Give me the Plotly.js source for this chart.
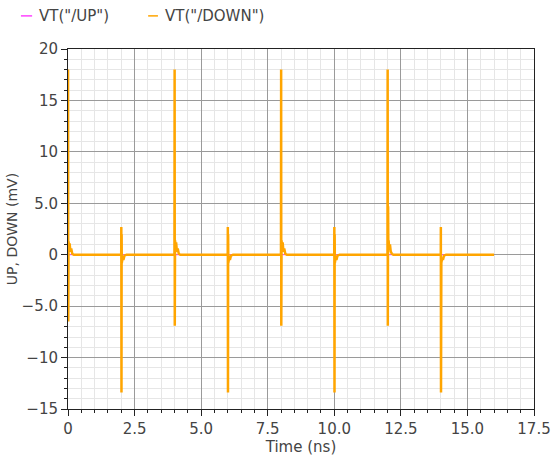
<!DOCTYPE html>
<html>
<head>
<meta charset="utf-8">
<script src="https://cdn.plot.ly/plotly-3.0.1.min.js"></script>
<style>html,body{margin:0;padding:0;background:#fff;}#chart{width:553px;height:456px;}</style>
</head>
<body>
<div id="chart"></div>
<script>
// Series names
const seriesNames = ['VT("/UP")', 'VT("/DOWN")'];

// VT("/UP") — lies under the DOWN trace (flat)
const upTime = [0, 16];
const upValue = [0, 0];

// VT("/DOWN") time (ns) and value (mV)
const downTime = [
  0, 0.002, 0.010, 0.020, 0.040, 0.060, 0.090, 0.120, 0.160, 0.220,
  1.998, 2.000, 2.002, 2.008, 2.014, 2.020, 2.050, 2.080, 2.120, 2.200,
  3.998, 4.000, 4.004, 4.010, 4.020, 4.040, 4.060, 4.090, 4.120, 4.160, 4.220,
  5.998, 6.000, 6.002, 6.008, 6.014, 6.020, 6.050, 6.080, 6.120, 6.200,
  7.998, 8.000, 8.004, 8.010, 8.020, 8.040, 8.060, 8.090, 8.120, 8.160, 8.220,
  9.998, 10.000, 10.002, 10.008, 10.014, 10.020, 10.050, 10.080, 10.120, 10.200,
  11.998, 12.000, 12.004, 12.010, 12.020, 12.030, 12.040, 12.060, 12.090, 12.120, 12.160, 12.220,
  13.998, 14.000, 14.002, 14.008, 14.014, 14.020, 14.050, 14.080, 14.120, 14.200,
  16.000
];
const downValue = [
  0, 18.0, -6.5, 1.3, 0.5, 1.1, 0.3, 0.6, 0.1, 0,
  0, 0, 2.7, -13.4, 2.0, -0.8, -0.3, -0.5, -0.1, 0,
  0, 0, 18.0, -6.9, 1.4, 0.5, 1.2, 0.3, 0.6, 0.1, 0,
  0, 0, 2.7, -13.4, 2.0, -0.8, -0.3, -0.5, -0.1, 0,
  0, 0, 18.0, -6.9, 1.4, 0.5, 1.2, 0.3, 0.6, 0.1, 0,
  0, 0, 2.7, -13.4, 2.0, -0.8, -0.3, -0.5, -0.1, 0,
  0, 0, 18.0, -6.9, 4.7, 0.5, 1.4, 0.5, 1.0, 0.3, 0.1, 0,
  0, 0, 2.7, -13.4, 2.0, -0.8, -0.3, -0.5, -0.1, 0,
  0
];

// Tick labels
const xTickVals = [0, 2.5, 5, 7.5, 10, 12.5, 15, 17.5];
const xTickText = ['0', '2.5', '5.0', '7.5', '10.0', '12.5', '15.0', '17.5'];
const yTickVals = [20, 15, 10, 5, 0, -5, -10, -15];
const yTickText = ['20', '15', '10', '5.0', '0', '\u22125.0', '\u221210', '\u221215'];

const colors = ['#ff44ff', '#ffa500'];
const FONT = 'DejaVu Sans, sans-serif';
const textColor = '#444444';

const traces = [
  { x: upTime, y: upValue, name: seriesNames[0], type: 'scatter', mode: 'lines',
    line: { color: colors[0], width: 1 }, showlegend: false, hoverinfo: 'skip' },
  { x: downTime, y: downValue, name: seriesNames[1], type: 'scatter', mode: 'lines',
    line: { color: colors[1], width: 2.5 }, showlegend: false, hoverinfo: 'skip' }
];

const axisCommon = {
  showline: true, linecolor: '#222222', linewidth: 1, mirror: true,
  ticks: 'outside', ticklen: 6, tickcolor: '#222222', tickwidth: 1,
  showgrid: true, gridcolor: '#9a9a9a', gridwidth: 1, zeroline: false,
  tickfont: { family: FONT, size: 15, color: textColor },
  tickmode: 'array', fixedrange: true
};

const layout = {
  width: 553, height: 456,
  margin: { l: 68, r: 19, t: 49, b: 47, pad: 0 },
  paper_bgcolor: '#ffffff', plot_bgcolor: '#ffffff',
  font: { family: FONT, color: textColor },
  showlegend: false,
  xaxis: Object.assign({}, axisCommon, {
    range: [0, 17.5], tickvals: xTickVals, ticktext: xTickText,
    minor: { dtick: 0.5, tick0: 0, showgrid: true, gridcolor: '#e6e6e6', gridwidth: 1,
             ticks: 'outside', ticklen: 3, tickcolor: '#222222' },
    title: { text: 'Time (ns)', font: { family: FONT, size: 15, color: textColor }, standoff: 2 }
  }),
  yaxis: Object.assign({}, axisCommon, {
    range: [-15, 20], tickvals: yTickVals, ticktext: yTickText,
    minor: { dtick: 1, tick0: 0, showgrid: true, gridcolor: '#e6e6e6', gridwidth: 1,
             ticks: 'outside', ticklen: 3, tickcolor: '#222222' },
    title: { text: 'UP, DOWN (mV)', font: { family: FONT, size: 14, color: textColor }, standoff: 0 }
  }),
  shapes: [
    { type: 'line', xref: 'paper', yref: 'paper', x0: -0.101, x1: -0.077, y0: 1.092, y1: 1.092,
      line: { color: colors[0], width: 1.5 } },
    { type: 'line', xref: 'paper', yref: 'paper', x0: 0.172, x1: 0.193, y0: 1.092, y1: 1.092,
      line: { color: colors[1], width: 1.5 } }
  ],
  annotations: [
    { xref: 'paper', yref: 'paper', x: -0.066, y: 1.092, xanchor: 'left', yanchor: 'middle',
      text: seriesNames[0], showarrow: false, font: { family: FONT, size: 15, color: textColor } },
    { xref: 'paper', yref: 'paper', x: 0.204, y: 1.092, xanchor: 'left', yanchor: 'middle',
      text: seriesNames[1], showarrow: false, font: { family: FONT, size: 15, color: textColor } }
  ]
};

Plotly.newPlot('chart', traces, layout, { staticPlot: true, displayModeBar: false });
</script>
</body>
</html>
